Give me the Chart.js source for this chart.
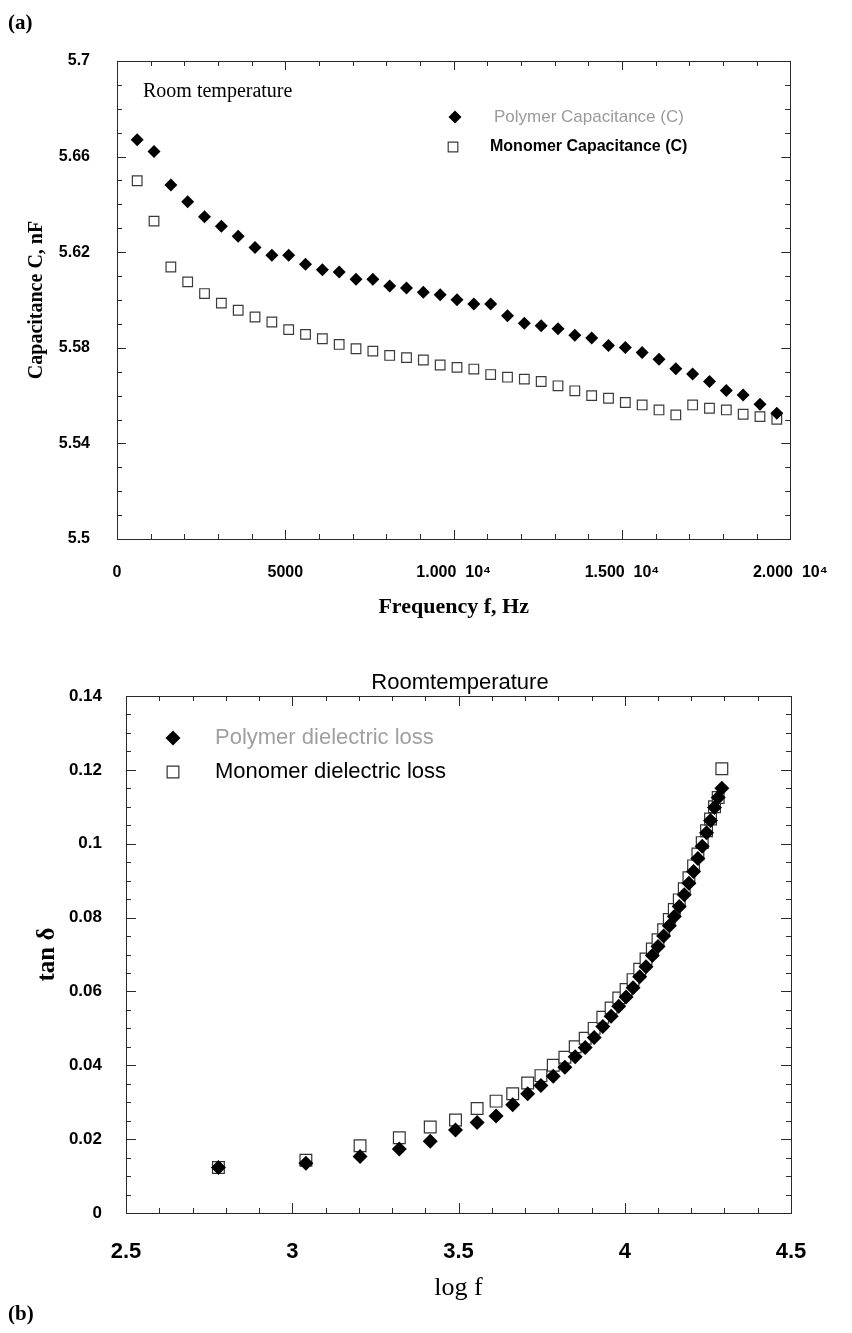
<!DOCTYPE html>
<html><head><meta charset="utf-8">
<script src="https://cdn.jsdelivr.net/npm/chart.js@4.4.0/dist/chart.umd.min.js"></script>
<style>
html,body{margin:0;padding:0;background:#fff;width:852px;height:1333px;overflow:hidden;}
#wrap{position:relative;width:852px;height:1333px;}
canvas{position:absolute;left:0;}
.lbl{position:absolute;font-family:'Liberation Serif','Times New Roman',serif;color:#000;white-space:nowrap;line-height:1;}
</style></head><body>
<div id="wrap">
<canvas id="c1" width="852" height="640" style="top:0px"></canvas>
<canvas id="c2" width="852" height="693" style="top:640px"></canvas>
<div class="lbl" style="left:8px;top:12px;font-size:21px;font-weight:bold;">(a)</div>
<div class="lbl" style="left:143px;top:80px;font-size:20px;">Room temperature</div>
<div class="lbl" style="left:300px;width:320px;text-align:center;top:671px;font-family:'Liberation Sans',Arial,sans-serif;font-size:22px;">Roomtemperature</div>
<div class="lbl" style="left:8px;top:1303px;font-size:21px;font-weight:bold;">(b)</div>
</div>
<script>
// ---------- data (a) ----------
const freqA = [600,1100,1600,2100,2600,3100,3600,4100,4600,5100,5600,6100,6600,7100,7600,8100,8600,9100,9600,10100,10600,11100,11600,12100,12600,13100,13600,14100,14600,15100,15600,16100,16600,17100,17600,18100,18600,19100,19600];
const polyCapA = [5.6670,5.6621,5.6481,5.6411,5.6348,5.6309,5.6267,5.6220,5.6187,5.6187,5.6150,5.6127,5.6117,5.6087,5.6087,5.6059,5.6050,5.6032,5.6022,5.6001,5.5983,5.5983,5.5934,5.5903,5.5892,5.5880,5.5852,5.5841,5.5810,5.5801,5.5780,5.5752,5.5712,5.5690,5.5659,5.5621,5.5603,5.5564,5.5526];
const monoCapA = [5.6499,5.6330,5.6138,5.6076,5.6027,5.5987,5.5957,5.5929,5.5908,5.5876,5.5856,5.5838,5.5814,5.5796,5.5786,5.5768,5.5759,5.5749,5.5728,5.5718,5.5711,5.5688,5.5677,5.5669,5.5659,5.5641,5.5620,5.5600,5.5589,5.5571,5.5561,5.5540,5.5519,5.5561,5.5547,5.5540,5.5522,5.5512,5.5501];
const xTicksA = [0,5000,10000,15000,20000];
const xTickLabelsA = ['0','5000','1.000  10\u2074','1.500  10\u2074','2.000  10\u2074'];
const yTicksA = [5.5,5.54,5.58,5.62,5.66,5.7];
const yTickLabelsA = ['5.5','5.54','5.58','5.62','5.66','5.7'];

// ---------- data (b) ----------
const logFB = [2.778,3.041,3.204,3.322,3.415,3.491,3.556,3.613,3.663,3.708,3.748,3.785,3.820,3.851,3.881,3.908,3.934,3.959,3.982,4.004,4.025,4.045,4.064,4.083,4.100,4.117,4.134,4.149,4.164,4.179,4.193,4.207,4.220,4.233,4.246,4.258,4.270,4.281,4.292];
const polyLossB = [0.0123,0.0135,0.0153,0.0173,0.0194,0.0225,0.0245,0.0263,0.0293,0.0323,0.0345,0.0370,0.0395,0.0423,0.0448,0.0475,0.0505,0.0533,0.0560,0.0585,0.0610,0.0640,0.0667,0.0697,0.0722,0.0750,0.0778,0.0803,0.0830,0.0862,0.0893,0.0925,0.0960,0.0993,0.1030,0.1063,0.1098,0.1125,0.1150];
const monoLossB = [0.0123,0.0143,0.0182,0.0204,0.0233,0.0252,0.0283,0.0303,0.0323,0.0352,0.0372,0.0400,0.0422,0.0450,0.0473,0.0500,0.0530,0.0555,0.0582,0.0605,0.0632,0.0660,0.0688,0.0715,0.0740,0.0767,0.0795,0.0822,0.0848,0.0878,0.0908,0.0940,0.0972,0.1003,0.1035,0.1067,0.1100,0.1125,0.1203];
const xTicksB = [2.5,3,3.5,4,4.5];
const xTickLabelsB = ['2.5','3','3.5','4','4.5'];
const yTicksB = [0,0.02,0.04,0.06,0.08,0.1,0.12,0.14];
const yTickLabelsB = ['0','0.02','0.04','0.06','0.08','0.1','0.12','0.14'];

const SANS = "'Liberation Sans', Arial, 'DejaVu Sans', sans-serif";
const SERIF = "'Liberation Serif', 'Times New Roman', serif";
Chart.defaults.font.family = SANS;
Chart.defaults.color = '#000';

// frame + inward ticks on all four sides
const frameTicks = {
  id: 'frameTicks',
  beforeDatasetsDraw(chart, args, o) {
    const {ctx, chartArea: a, scales: {x, y}} = chart;
    ctx.save();
    ctx.strokeStyle = '#2a2a2a';
    ctx.lineWidth = 1;
    ctx.strokeRect(Math.round(a.left) + 0.5, Math.round(a.top) + 0.5, Math.round(a.right - a.left), Math.round(a.bottom - a.top));
    ctx.beginPath();
    const nx = Math.round((x.max - x.min) / o.xMinor);
    for (let k = 0; k <= nx; k++) {
      const v = x.min + k * o.xMinor;
      const px = Math.round(x.getPixelForValue(v)) + 0.5;
      const L = (k % o.xRatio === 0) ? o.major : o.minor;
      ctx.moveTo(px, a.bottom); ctx.lineTo(px, a.bottom - L);
      ctx.moveTo(px, a.top); ctx.lineTo(px, a.top + L);
    }
    const ny = Math.round((y.max - y.min) / o.yMinor);
    for (let k = 0; k <= ny; k++) {
      const v = y.min + k * o.yMinor;
      const py = Math.round(y.getPixelForValue(v)) + 0.5;
      const L = (k % o.yRatio === 0) ? o.major : o.minor;
      ctx.moveTo(a.left, py); ctx.lineTo(a.left + L, py);
      ctx.moveTo(a.right, py); ctx.lineTo(a.right - L, py);
    }
    ctx.stroke();
    ctx.restore();
  }
};

// in-plot legend using each dataset's marker style
const legendBox = {
  id: 'legendBox',
  afterDraw(chart, args, o) {
    const ctx = chart.ctx;
    ctx.save();
    o.items.forEach(it => {
      const ds = chart.data.datasets[it.ds];
      const r = ds.pointRadius;
      ctx.beginPath();
      if (ds.pointStyle === 'rectRot') {
        ctx.moveTo(it.mx - r, it.y); ctx.lineTo(it.mx, it.y - r);
        ctx.lineTo(it.mx + r, it.y); ctx.lineTo(it.mx, it.y + r); ctx.closePath();
      } else {
        const h = r * Math.SQRT1_2;
        ctx.rect(it.mx - h, it.y - h, 2 * h, 2 * h);
      }
      ctx.fillStyle = ds.backgroundColor; ctx.fill();
      if (ds.borderWidth) { ctx.lineWidth = ds.borderWidth; ctx.strokeStyle = ds.borderColor; ctx.stroke(); }
      ctx.font = it.font;
      ctx.fillStyle = it.color;
      ctx.textAlign = 'left';
      ctx.textBaseline = 'middle';
      ctx.fillText(ds.label, it.tx, it.y);
    });
    ctx.restore();
  }
};

function pts(xs, ys) { return xs.map((v, i) => ({x: v, y: ys[i]})); }

// ---------- chart (a) ----------
new Chart(document.getElementById('c1'), {
  type: 'scatter',
  data: {datasets: [
    {label: 'Polymer Capacitance (C)', data: pts(freqA, polyCapA), pointStyle: 'rectRot', pointRadius: 6.5, backgroundColor: '#000', borderColor: '#000', borderWidth: 0},
    {label: 'Monomer Capacitance (C)', data: pts(freqA, monoCapA), pointStyle: 'rect', pointRadius: 6.8, backgroundColor: '#fff', borderColor: '#3a3a3a', borderWidth: 1.2}
  ]},
  options: {
    responsive: false, animation: false, devicePixelRatio: 1,
    layout: {padding: {left: 0, top: 61, right: 56, bottom: 0}},
    elements: {point: {hoverRadius: 6.5}},
    plugins: {
      legend: {display: false}, tooltip: {enabled: false},
      frameTicks: {xMinor: 1000, xRatio: 5, yMinor: 0.01, yRatio: 4, major: 9, minor: 5},
      legendBox: {items: [
        {ds: 0, mx: 455, tx: 494, y: 117, font: "17px " + SANS, color: '#9a9a9a'},
        {ds: 1, mx: 453, tx: 490, y: 147, font: "bold 16px " + SANS, color: '#000'}
      ]}
    },
    scales: {
      x: {
        type: 'linear', min: 0, max: 20000,
        grid: {display: false, drawTicks: false}, border: {display: false},
        afterBuildTicks: s => { s.ticks = xTicksA.map(v => ({value: v})); },
        ticks: {callback: (v, i) => xTickLabelsA[i], font: {size: 16, weight: 'bold'}, color: '#000', padding: 24.4, maxRotation: 0, autoSkip: false},
        title: {display: true, text: 'Frequency f, Hz', font: {family: SERIF, size: 22, weight: 'bold'}, color: '#000', padding: {top: 0, bottom: 19.8}},
        afterFit: s => { s.height = 101; }
      },
      y: {
        type: 'linear', min: 5.5, max: 5.7,
        grid: {display: false, drawTicks: false}, border: {display: false},
        afterBuildTicks: s => { s.ticks = yTicksA.map(v => ({value: v})); },
        ticks: {callback: (v, i) => yTickLabelsA[i], font: {size: 16, weight: 'bold'}, color: '#000', padding: 27},
        title: {display: true, text: 'Capacitance C, nF', font: {family: SERIF, size: 20, weight: 'bold'}, color: '#000', padding: {top: 25, bottom: 0}},
        afterFit: s => { s.width = 117; }
      }
    }
  },
  plugins: [frameTicks, legendBox]
});

// ---------- chart (b) ----------
new Chart(document.getElementById('c2'), {
  type: 'scatter',
  data: {datasets: [
    {label: 'Polymer dielectric loss', data: pts(logFB, polyLossB), pointStyle: 'rectRot', pointRadius: 7.5, backgroundColor: '#000', borderColor: '#000', borderWidth: 0},
    {label: 'Monomer dielectric loss', data: pts(logFB, monoLossB), pointStyle: 'rect', pointRadius: 8.3, backgroundColor: '#fff', borderColor: '#333', borderWidth: 1.2}
  ]},
  options: {
    responsive: false, animation: false, devicePixelRatio: 1,
    layout: {padding: {left: 0, top: 56, right: 61, bottom: 0}},
    plugins: {
      legend: {display: false}, tooltip: {enabled: false},
      frameTicks: {xMinor: 0.1, xRatio: 5, yMinor: 0.005, yRatio: 4, major: 10, minor: 5},
      legendBox: {items: [
        {ds: 0, mx: 173, tx: 215, y: 98, font: "22px " + SANS, color: '#a0a0a0'},
        {ds: 1, mx: 173, tx: 215, y: 132, font: "22px " + SANS, color: '#000'}
      ]}
    },
    scales: {
      x: {
        type: 'linear', min: 2.5, max: 4.5,
        grid: {display: false, drawTicks: false}, border: {display: false},
        afterBuildTicks: s => { s.ticks = xTicksB.map(v => ({value: v})); },
        ticks: {callback: (v, i) => xTickLabelsB[i], font: {size: 22, weight: 'bold'}, color: '#000', padding: 25.8, maxRotation: 0, autoSkip: false},
        title: {display: true, text: 'log f', font: {family: SERIF, size: 26}, color: '#000', padding: {top: 0, bottom: 29.4}},
        afterFit: s => { s.height = 120; }
      },
      y: {
        type: 'linear', min: 0, max: 0.14,
        grid: {display: false, drawTicks: false}, border: {display: false},
        afterBuildTicks: s => { s.ticks = yTicksB.map(v => ({value: v})); },
        ticks: {callback: (v, i) => yTickLabelsB[i], font: {size: 17, weight: 'bold'}, color: '#000', padding: 24},
        title: {display: true, text: 'tan \u03b4', font: {family: SERIF, size: 25, weight: 'bold'}, color: '#000', padding: {top: 33, bottom: 0}},
        afterFit: s => { s.width = 126; }
      }
    }
  },
  plugins: [frameTicks, legendBox]
});
</script>
</body></html>
